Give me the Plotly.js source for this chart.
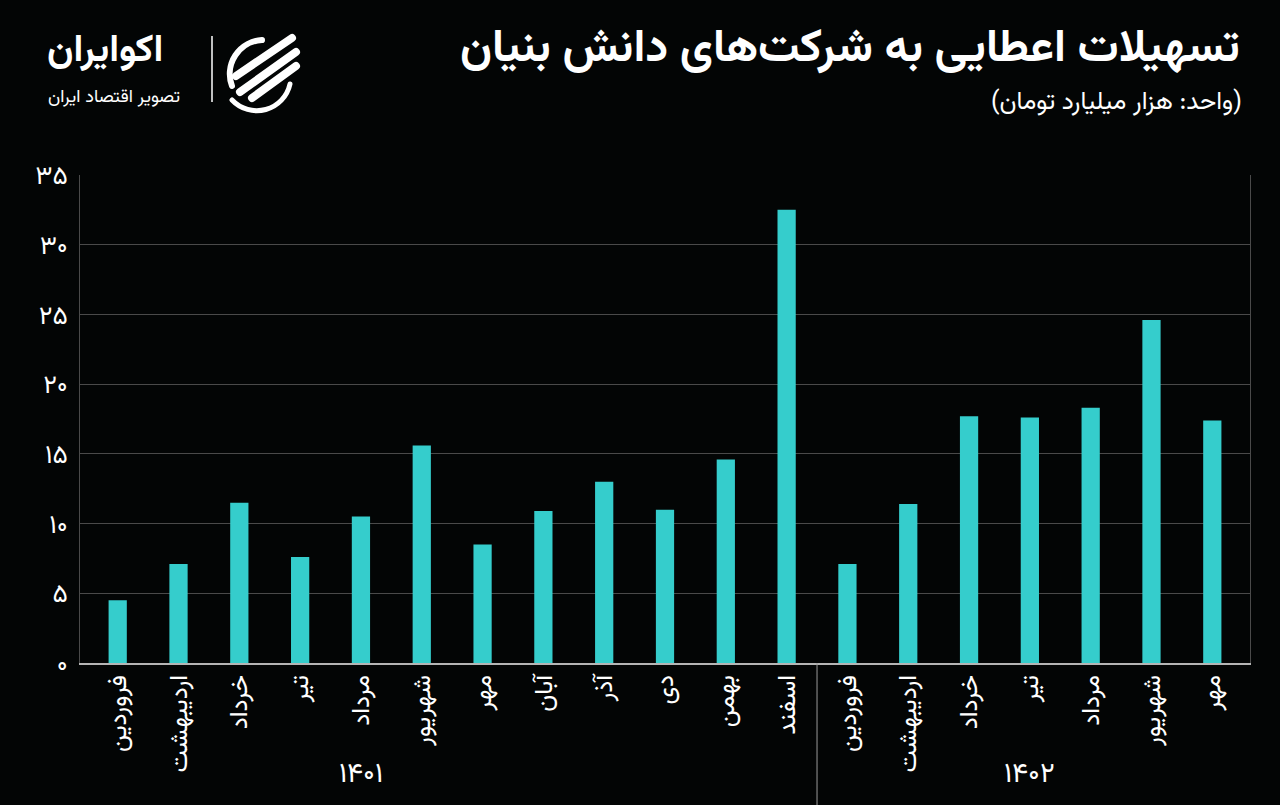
<!DOCTYPE html>
<html>
<head>
<meta charset="utf-8">
<script src="https://cdn.plot.ly/plotly-3.0.1.min.js"></script>
<style>
html,body{margin:0;padding:0;background:#030505;}
#chart{width:1280px;height:805px;}
</style>
</head>
<body>
<div id="chart"></div>
<script>
// Data
const months1401 = ['فروردین','اردیبهشت','خرداد','تیر','مرداد','شهریور','مهر','آبان','آذر','دی','بهمن','اسفند'];
const months1402 = ['فروردین','اردیبهشت','خرداد','تیر','مرداد','شهریور','مهر'];
const values1401 = [4.5, 7.1, 11.5, 7.6, 10.5, 15.6, 8.5, 10.9, 13.0, 11.0, 14.6, 32.5];
const values1402 = [7.1, 11.4, 17.7, 17.6, 18.3, 24.6, 17.4];
const yearLabels = ['۱۴۰۱', '۱۴۰۲'];
const yTickVals = [0, 5, 10, 15, 20, 25, 30, 35];
const yTickText = ['۰', '۵', '۱۰', '۱۵', '۲۰', '۲۵', '۳۰', '۳۵'];

const months = months1401.concat(months1402);
const values = values1401.concat(values1402);
const xIdx = months.map((m, i) => i);

const FONT = "Vazirmatn, 'DejaVu Sans', 'Noto Sans', sans-serif";

const trace = {
  type: 'bar',
  x: xIdx,
  y: values,
  marker: {color: '#35cdcc'},
  hoverinfo: 'skip'
};

const split = months1401.length - 0.5;

const layout = {
  width: 1280, height: 805,
  paper_bgcolor: '#030505',
  plot_bgcolor: '#030505',
  margin: {l: 80, r: 30, t: 175, b: 142},
  showlegend: false,
  bargap: 0.7,
  font: {family: FONT, color: '#ffffff'},
  xaxis: {
    tickmode: 'array', tickvals: xIdx, ticktext: months,
    tickangle: -90,
    tickfont: {size: 25, color: '#ffffff', family: FONT},
    showgrid: false, zeroline: false,
    showline: true, linecolor: '#b5b5b5', linewidth: 2,
    ticks: '', range: [-0.62, months.length - 0.38]
  },
  yaxis: {
    range: [0, 35],
    tickmode: 'array', tickvals: yTickVals, ticktext: yTickText,
    tickfont: {size: 26, color: '#ffffff', family: FONT},
    showgrid: true, gridcolor: '#4a4a4a', gridwidth: 1,
    zeroline: false,
    showline: true, linecolor: '#4a4a4a', linewidth: 1, mirror: true,
    ticks: 'outside', ticklen: 6, tickcolor: 'rgba(0,0,0,0)'
  },
  shapes: [
    {type: 'line', xref: 'x', yref: 'paper', x0: split, x1: split, y0: 0, y1: -0.3,
     line: {color: '#9a9a9a', width: 1}}
  ],
  annotations: [
    {text: '<b>تسهیلات اعطایی به شرکت‌های دانش بنیان</b>', xref: 'paper', yref: 'paper',
     x: 1.0, y: 1.256, xanchor: 'right', yanchor: 'middle', showarrow: false,
     xshift: -8, font: {size: 46, color: '#ffffff', family: FONT}},
    {text: '(واحد: هزار میلیارد تومان)', xref: 'paper', yref: 'paper',
     x: 1.0, y: 1.148, xanchor: 'right', yanchor: 'middle', showarrow: false,
     xshift: -6, font: {size: 25, color: '#ffffff', family: FONT}},
    {text: yearLabels[0], xref: 'x', yref: 'paper', x: 4, y: -0.23,
     xanchor: 'center', yanchor: 'middle', showarrow: false,
     font: {size: 28, color: '#ffffff', family: FONT}},
    {text: yearLabels[1], xref: 'x', yref: 'paper', x: 15, y: -0.23,
     xanchor: 'center', yanchor: 'middle', showarrow: false,
     font: {size: 28, color: '#ffffff', family: FONT}},
    {text: '<b>اکوایران</b>', xref: 'paper', yref: 'paper',
     x: 0, y: 1.254, xanchor: 'left', yanchor: 'middle', showarrow: false,
     xshift: -35, font: {size: 38, color: '#ffffff', family: FONT}},
    {text: 'تصویر اقتصاد ایران', xref: 'paper', yref: 'paper',
     x: 0, y: 1.158, xanchor: 'left', yanchor: 'middle', showarrow: false,
     xshift: -34, font: {size: 18, color: '#ffffff', family: FONT}}
  ]
};

Plotly.newPlot('chart', [trace], layout, {displayModeBar: false, staticPlot: true}).then(() => {
  // logo icon drawn as an overlay SVG (decoration only)
  const svgNS = 'http://www.w3.org/2000/svg';
  const svg = document.createElementNS(svgNS, 'svg');
  svg.setAttribute('width', '1280'); svg.setAttribute('height', '805');
  svg.style.position = 'absolute'; svg.style.left = '0'; svg.style.top = '0';
  svg.style.pointerEvents = 'none';
  svg.innerHTML =
    '<line x1="212" y1="36" x2="212" y2="102" stroke="#fff" stroke-width="1.5"/>' +
    '<g fill="none" stroke="#fff" stroke-linecap="round">' +
    '<path d="M262 40 A34 34 0 0 0 232 86" stroke-width="6"/>' +
    '<path d="M296 52 L240 92" stroke-width="8"/>' +
    '<path d="M292 38 L236 76" stroke-width="8"/>' +
    '<path d="M296 66 L252 98" stroke-width="8"/>' +
    '<path d="M232 100 A34 34 0 0 0 290 84" stroke-width="5"/>' +
    '</g>';
  const c = document.getElementById('chart');
  c.style.position = 'relative';
  c.appendChild(svg);
});
</script>
</body>
</html>
